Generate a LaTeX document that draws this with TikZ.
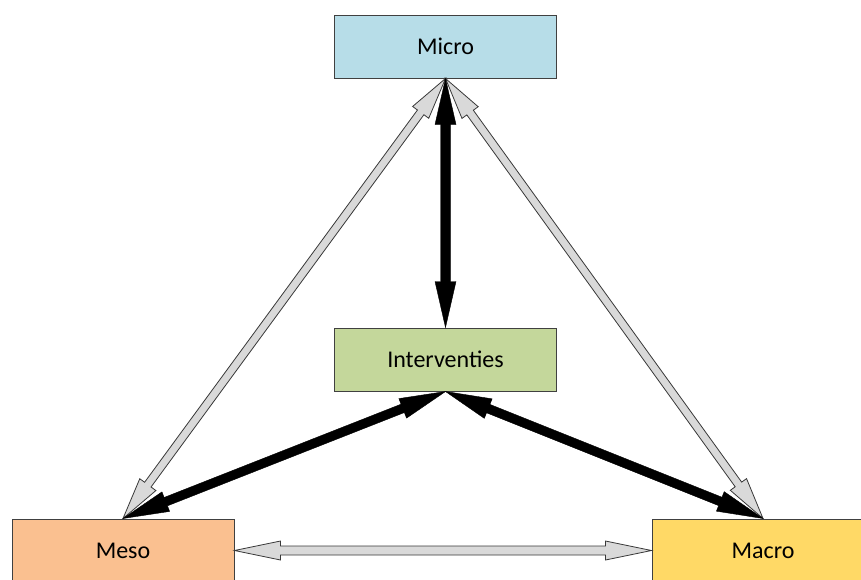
\documentclass[tikz,border=0pt]{standalone}
\usepackage{fontspec}
\setmainfont{Carlito}
\usetikzlibrary{calc}
\definecolor{microc}{HTML}{B7DDE8}
\definecolor{interc}{HTML}{C4D79B}
\definecolor{mesoc}{HTML}{FAC090}
\definecolor{macroc}{HTML}{FFD966}
\tikzset{
  box/.style={draw=black!75, line width=1pt, minimum width=222pt, minimum height=63pt, inner sep=0pt, font=\fontsize{24}{28}\selectfont},
  grayarrow/.style={fill=black!15, draw=black!78, line width=0.8pt, line join=miter},
  blackarrow/.style={fill=black, draw=black, line width=0.4pt, line join=miter},
}
\newcommand{\dblarrow}[6]{%
  \path[#1] (#2)
  -- ($(#2)!#6!(#3)!#5!90:(#3)$)
  -- ($(#2)!#6!(#3)!#4!90:(#3)$)
  -- ($(#3)!#6!(#2)!#4!-90:(#2)$)
  -- ($(#3)!#6!(#2)!#5!-90:(#2)$)
  -- (#3)
  -- ($(#3)!#6!(#2)!#5!90:(#2)$)
  -- ($(#3)!#6!(#2)!#4!90:(#2)$)
  -- ($(#2)!#6!(#3)!#4!-90:(#3)$)
  -- ($(#2)!#6!(#3)!#5!-90:(#3)$)
  -- cycle;
}
\begin{document}
\begin{tikzpicture}[x=1pt,y=-1pt]
\useasboundingbox (0,0) rectangle (861,579);
\node[box, fill=microc] (micro) at (445.5,46.5) {Micro};
\node[box, fill=interc] (inter) at (445.5,359.5) {Interventies};
\node[box, fill=mesoc] (meso) at (123,550.5) {Meso};
\node[box, fill=macroc] (macro) at (763,550.5) {Macro};
\dblarrow{grayarrow}{micro.south}{meso.north}{4pt}{10pt}{42pt}
\dblarrow{grayarrow}{micro.south}{macro.north}{4pt}{10pt}{42pt}
\dblarrow{grayarrow}{meso.east}{macro.west}{4.5pt}{9.5pt}{46pt}
\dblarrow{blackarrow}{micro.south}{inter.north}{5pt}{10.5pt}{46pt}
\dblarrow{blackarrow}{inter.south}{meso.north}{4.5pt}{10.5pt}{46pt}
\dblarrow{blackarrow}{inter.south}{macro.north}{4.5pt}{10.5pt}{46pt}
\end{tikzpicture}
\end{document}
